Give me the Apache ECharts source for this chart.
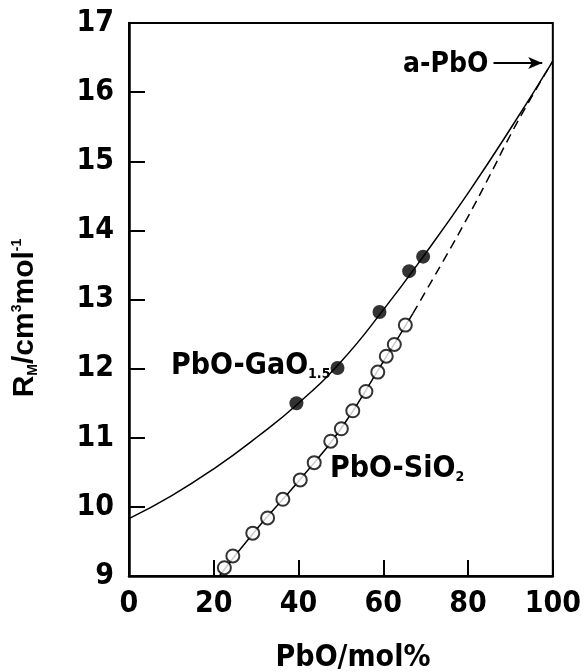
<!DOCTYPE html>
<html>
<head>
<meta charset="utf-8">
<script src="https://cdn.jsdelivr.net/npm/echarts@6/dist/echarts.min.js"></script>
<style>
  html, body { margin: 0; padding: 0; background: #fff; }
  #chart { width: 584px; height: 672px; }
</style>
</head>
<body>
<div id="chart"></div>
<script>
// PbO-GaO1.5 : fitted curve + measured points (filled)
const gaCurveX = [0, 10, 20, 30, 40, 50, 60, 70, 80, 90, 100];
const gaCurveY = [9.83, 10.16, 10.55, 11.0, 11.5, 12.1, 12.85, 13.67, 14.54, 15.47, 16.45];
const gaPointsX = [39.5, 49.2, 59.1, 66.1, 69.4];
const gaPointsY = [11.5, 12.01, 12.82, 13.41, 13.62];

// PbO-SiO2 : measured points (open), solid line and dashed extrapolation
const siPointsX = [22.5, 24.5, 29.2, 32.7, 36.3, 40.4, 43.7, 47.6, 50.1, 52.8, 55.9, 58.7, 60.7, 62.6, 65.2];
const siPointsY = [9.12, 9.29, 9.62, 9.84, 10.11, 10.39, 10.64, 10.95, 11.13, 11.39, 11.67, 11.95, 12.18, 12.35, 12.63];
const siLineX = [21.3, 30, 40, 50, 60, 67];
const siLineY = [9.0, 9.67, 10.37, 11.13, 12.1, 12.8];
const siDashX = [67, 75, 80, 85, 90, 95, 100];
const siDashY = [12.8, 13.65, 14.2, 14.78, 15.38, 15.93, 16.45];

// a-PbO arrow
const arrowX = [86, 97.5];
const arrowY = 16.42;

const xTicks = [0, 20, 40, 60, 80, 100];
const yTicks = [9, 10, 11, 12, 13, 14, 15, 16, 17];

const zip = (xs, ys) => xs.map((x, i) => [x, ys[i]]);
const narrow = '"Liberation Sans Narrow", "Arial Narrow", "DejaVu Sans Condensed", sans-serif';
const bold = '"Liberation Sans", Arial, sans-serif';

const chart = echarts.init(document.getElementById('chart'), null, {renderer: 'canvas'});

const option = {
  backgroundColor: '#fff',
  animation: false,
  grid: {
    left: 129, right: 26, top: 23, bottom: 96,
    show: true, borderColor: '#000', borderWidth: 2
  },
  xAxis: {
    type: 'value', min: xTicks[0], max: xTicks[xTicks.length - 1], interval: 20,
    axisLine: {onZero: false, lineStyle: {color: '#000', width: 2.5}},
    axisTick: {inside: true, length: 16, lineStyle: {color: '#000', width: 2}},
    axisLabel: {color: '#000', fontFamily: narrow, fontWeight: 'bold', fontSize: 30, margin: 13},
    splitLine: {show: false}
  },
  yAxis: {
    type: 'value', min: yTicks[0], max: yTicks[yTicks.length - 1], interval: 1,
    axisLine: {onZero: false, lineStyle: {color: '#000', width: 2.5}},
    axisTick: {inside: true, length: 16, lineStyle: {color: '#000', width: 2}},
    axisLabel: {color: '#000', fontFamily: narrow, fontWeight: 'bold', fontSize: 30, margin: 15},
    splitLine: {show: false}
  },
  series: [
    {
      name: 'PbO-GaO1.5 curve', type: 'line', data: zip(gaCurveX, gaCurveY),
      smooth: true, showSymbol: false, lineStyle: {color: '#000', width: 1.5}, z: 2
    },
    {
      name: 'PbO-GaO1.5', type: 'scatter', data: zip(gaPointsX, gaPointsY),
      symbol: 'circle', symbolSize: 14, itemStyle: {color: '#000'}, z: 4
    },
    {
      name: 'PbO-SiO2 line', type: 'line', data: zip(siLineX, siLineY),
      smooth: true, showSymbol: false, lineStyle: {color: '#000', width: 1.5}, z: 2
    },
    {
      name: 'PbO-SiO2 extrapolation', type: 'line', data: zip(siDashX, siDashY),
      smooth: true, showSymbol: false, lineStyle: {color: '#000', width: 1.5, type: [9, 6]}, z: 2,
      markLine: {
        silent: true, symbol: ['none', 'arrow'], symbolSize: [9, 14],
        label: {show: false},
        lineStyle: {color: '#000', width: 2, type: 'solid'},
        data: [[{coord: [arrowX[0], arrowY]}, {coord: [arrowX[1], arrowY]}]]
      }
    },
    {
      name: 'PbO-SiO2', type: 'scatter', data: zip(siPointsX, siPointsY),
      symbol: 'circle', symbolSize: 13,
      itemStyle: {color: '#fff', borderColor: '#000', borderWidth: 2}, z: 4
    }
  ],
  graphic: [
    {
      type: 'text', left: 171, top: 351,
      style: {
        text: '{m|PbO-GaO}{s|1.5}',
        rich: {
          m: {fontFamily: narrow, fontWeight: 'bold', fontSize: 30, fill: '#000'},
          s: {fontFamily: narrow, fontWeight: 'bold', fontSize: 14, lineHeight: 20, fill: '#000', verticalAlign: 'bottom'}
        }
      }
    },
    {
      type: 'text', left: 330, top: 454,
      style: {
        text: '{m|PbO-SiO}{s|2}',
        rich: {
          m: {fontFamily: narrow, fontWeight: 'bold', fontSize: 30, fill: '#000'},
          s: {fontFamily: narrow, fontWeight: 'bold', fontSize: 14, lineHeight: 20, fill: '#000', verticalAlign: 'bottom'}
        }
      }
    },
    {
      type: 'text', left: 403, top: 51,
      style: {text: 'a-PbO', fontFamily: narrow, fontWeight: 'bold', fontSize: 28, fill: '#000'}
    },
    {
      type: 'text', x: 353, y: 658,
      style: {
        text: 'PbO/mol%', fontFamily: narrow, fontWeight: 'bold', fontSize: 30, fill: '#000',
        align: 'center', verticalAlign: 'middle'
      }
    },
    {
      type: 'text', x: 25, y: 318, rotation: Math.PI / 2,
      style: {
        text: '{m|R}{sub|M}{m|/cm}{sup|3}{m|mol}{sup|-1}',
        align: 'center', verticalAlign: 'middle',
        rich: {
          m: {fontFamily: bold, fontWeight: 'bold', fontSize: 30, fill: '#000'},
          sub: {fontFamily: bold, fontWeight: 'bold', fontSize: 14, fill: '#000', verticalAlign: 'bottom'},
          sup: {fontFamily: bold, fontWeight: 'bold', fontSize: 14, fill: '#000', verticalAlign: 'top'}
        }
      }
    }
  ]
};

chart.setOption(option);
</script>
</body>
</html>
